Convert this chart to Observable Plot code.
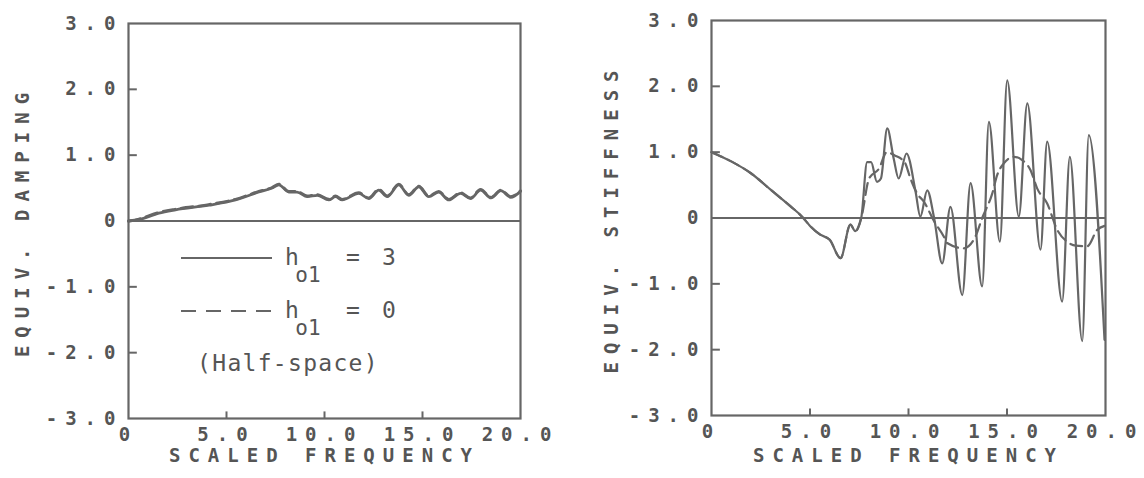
<!DOCTYPE html>
<html><head><meta charset="utf-8">
<script src="https://cdn.jsdelivr.net/npm/d3@7"></script>
<script src="https://cdn.jsdelivr.net/npm/@observablehq/plot@0.6"></script>
<style>
body{margin:0;background:#fff;}
#wrap{display:flex;width:1144px;height:478px;}
#wrap svg text{letter-spacing:8px;}
</style></head><body><div id="wrap"></div>
<script>
// ---- data ----
const xTicks = [0, 5, 10, 15, 20];
const yTicks = [-3, -2, -1, 0, 1, 2, 3];
const innerYTicks = [-2, -1, 1, 2];
const innerXTicks = [5, 10, 15];
const xTitle = "SCALED FREQUENCY";
const yTitleLeft = "EQUIV. DAMPING";
const yTitleRight = "EQUIV. STIFFNESS";
const legendSymbol = "h";
const legendSub = "o1";
const legendEq = "=";
const legendValues = ["3", "0"];
const legendNote = "(Half-space)";

// left panel: equivalent damping
const dampFreqH3 = [0, 0.53, 1.55, 2.4, 4.1, 5.46, 6.65, 7.33, 7.67, 8.18, 8.6, 9.12, 9.63, 10.22, 10.56, 10.9, 11.75, 12.26, 12.77, 13.2, 13.79, 14.3, 14.81, 15.32, 15.83, 16.34, 16.94, 17.45, 17.96, 18.5, 19.0, 19.5, 20.0];
const dampValH3  = [0, 0.02, 0.12, 0.17, 0.24, 0.32, 0.44, 0.50, 0.55, 0.44, 0.44, 0.37, 0.39, 0.32, 0.37, 0.32, 0.42, 0.34, 0.47, 0.37, 0.55, 0.39, 0.52, 0.37, 0.44, 0.32, 0.42, 0.34, 0.47, 0.35, 0.46, 0.36, 0.45];
const dampFreqH0 = [0, 0.53, 1.55, 2.4, 4.1, 5.46, 6.65, 7.33, 7.67, 8.18, 8.6, 9.12, 9.63, 10.22, 10.56, 10.9, 11.75, 12.26, 12.77, 13.2, 13.79, 14.3, 14.81, 15.32, 15.83, 16.34, 16.94, 17.45, 17.96, 18.5, 19.0, 19.5, 20.0];
const dampValH0  = [0, 0.03, 0.13, 0.18, 0.25, 0.33, 0.45, 0.51, 0.56, 0.45, 0.45, 0.38, 0.40, 0.33, 0.38, 0.33, 0.43, 0.35, 0.48, 0.38, 0.56, 0.40, 0.53, 0.38, 0.45, 0.33, 0.43, 0.35, 0.48, 0.36, 0.47, 0.37, 0.46];

// right panel: equivalent stiffness
const stiffFreqH3 = [0, 1, 2, 3, 4, 4.6, 5.0, 5.5, 6.0, 6.55, 7.05, 7.3, 7.6, 7.9, 8.1, 8.4, 8.6, 8.92, 9.25, 9.5, 9.9, 10.36, 10.6, 10.95, 11.3, 11.71, 12.13, 12.73, 13.15, 13.74, 14.08, 14.64, 15.01, 15.6, 16.03, 16.7, 17.04, 17.8, 18.19, 18.82, 19.15, 19.95];
const stiffValH3  = [1.0, 0.86, 0.68, 0.43, 0.18, 0.02, -0.12, -0.25, -0.33, -0.61, -0.10, -0.20, 0.0, 0.85, 0.85, 0.55, 0.60, 1.36, 0.90, 0.60, 0.98, 0.40, 0.02, 0.42, 0.0, -0.69, 0.17, -1.17, 0.53, -1.04, 1.46, -0.36, 2.09, 0.02, 1.74, -0.48, 1.16, -1.27, 0.93, -1.87, 1.26, -1.85];
const stiffFreqH0 = [0, 1, 2, 3, 4, 4.6, 5.0, 5.5, 6.0, 6.55, 7.05, 7.3, 7.6, 8.0, 8.5, 8.9, 9.3, 9.8, 10.1, 10.44, 10.78, 11.3, 11.79, 11.96, 12.8, 13.4, 13.74, 14.25, 14.5, 14.84, 15.35, 15.77, 16.19, 16.53, 17.04, 17.55, 18.05, 18.5, 19.07, 19.58, 19.95];
const stiffValH0  = [1.0, 0.86, 0.68, 0.43, 0.18, 0.02, -0.12, -0.25, -0.33, -0.61, -0.10, -0.20, 0.0, 0.60, 0.75, 1.00, 0.95, 0.85, 0.60, 0.37, 0.25, -0.05, -0.28, -0.38, -0.46, -0.28, 0.0, 0.37, 0.65, 0.83, 0.93, 0.88, 0.73, 0.45, 0.22, -0.18, -0.36, -0.42, -0.43, -0.18, -0.12];

// ---- helpers ----
const LINE = "#666";
const TEXT = "#555";
const MONO = "'DejaVu Sans Mono', monospace";
const zip = (fs, vs) => fs.map((f, i) => ({f, v: vs[i]}));
const fmt = d => d === 0 ? "0" : d.toFixed(1);

function legendMark(index, scales, values, dims) {
  const g = d3.create("svg:g")
    .attr("fill", TEXT).attr("font-family", MONO).attr("font-size", 23)
    .attr("stroke", "none");
  const x0 = dims.marginLeft, y0 = dims.marginTop;
  const rows = [
    {line: 235, base: 242, sub: 259, dash: null},
    {line: 288, base: 295, sub: 312, dash: "15,10"}
  ];
  const put = (x, y, s, ls, size) => g.append("text").attr("x", x0 + x).attr("y", y0 + y)
      .attr("font-size", size || 23).attr("style", `letter-spacing:${ls}px`).text(s);
  rows.forEach((r, i) => {
    g.append("line")
      .attr("x1", x0 + 53).attr("x2", x0 + 144)
      .attr("y1", y0 + r.line).attr("y2", y0 + r.line)
      .attr("stroke", LINE).attr("stroke-width", 2.2)
      .attr("stroke-dasharray", r.dash);
    put(164, r.base, legendSymbol, 0);
    put(180, r.sub, legendSub, 0, 21);
    put(225, r.base, legendEq, 0);
    put(261, r.base, legendValues[i], 0);
  });
  put(160, 348, legendNote, 1.3);
  return g.node();
}

function panel({yTitle, h3, h0, mLeft, mRight, mTop, mBottom, titleDx, titleDy, withLegend, curveW}) {
  return Plot.plot({
    width: 572, height: 478,
    marginLeft: mLeft, marginRight: mRight, marginTop: mTop, marginBottom: mBottom,
    x: {domain: [0, 20], label: null},
    y: {domain: [-3, 3], label: null},
    style: {fontFamily: MONO, fontSize: "19px", color: TEXT, background: "white", overflow: "visible"},
    marks: [
      Plot.frame({stroke: LINE, strokeWidth: 2.2}),
      Plot.ruleY([0], {stroke: LINE, strokeWidth: 2.2}),
      Plot.ruleY(innerYTicks, {x1: 0, x2: 0.45, stroke: LINE, strokeWidth: 2}),
      Plot.ruleX(innerXTicks, {y1: -3, y2: -2.9, stroke: LINE, strokeWidth: 2}),
      Plot.axisY({ticks: yTicks, tickFormat: fmt, tickSize: 0, tickPadding: 5, fontSize: 19, fontWeight: "bold", label: null}),
      Plot.axisX({ticks: xTicks, tickFormat: fmt, tickSize: 0, tickPadding: 9, fontSize: 19, fontWeight: "bold", label: null}),
      Plot.text([yTitle], {frameAnchor: "left", textAnchor: "middle", dx: titleDx, rotate: -90, fontSize: 19, fontWeight: "bold", fill: TEXT}),
      Plot.text([xTitle], {frameAnchor: "bottom", textAnchor: "middle", dy: titleDy, fontSize: 19, fontWeight: "bold", fill: TEXT}),
      Plot.line(h0, {x: "f", y: "v", stroke: LINE, strokeWidth: curveW, strokeDasharray: "12,6", curve: "monotone-x"}),
      Plot.line(h3, {x: "f", y: "v", stroke: LINE, strokeWidth: curveW, curve: "monotone-x"}),
      ...(withLegend ? [legendMark] : [])
    ]
  });
}

const wrap = document.getElementById("wrap");
wrap.append(panel({
  yTitle: yTitleLeft,
  h3: zip(dampFreqH3, dampValH3), h0: zip(dampFreqH0, dampValH0),
  mLeft: 128, mRight: 52, mTop: 23, mBottom: 60, titleDx: -106, titleDy: 43, withLegend: true, curveW: 2.8
}));
wrap.append(panel({
  yTitle: yTitleRight,
  h3: zip(stiffFreqH3, stiffValH3), h0: zip(stiffFreqH0, stiffValH0),
  mLeft: 139, mRight: 39, mTop: 20, mBottom: 63, titleDx: -100, titleDy: 46, withLegend: false, curveW: 2.2
}));
</script></body></html>
